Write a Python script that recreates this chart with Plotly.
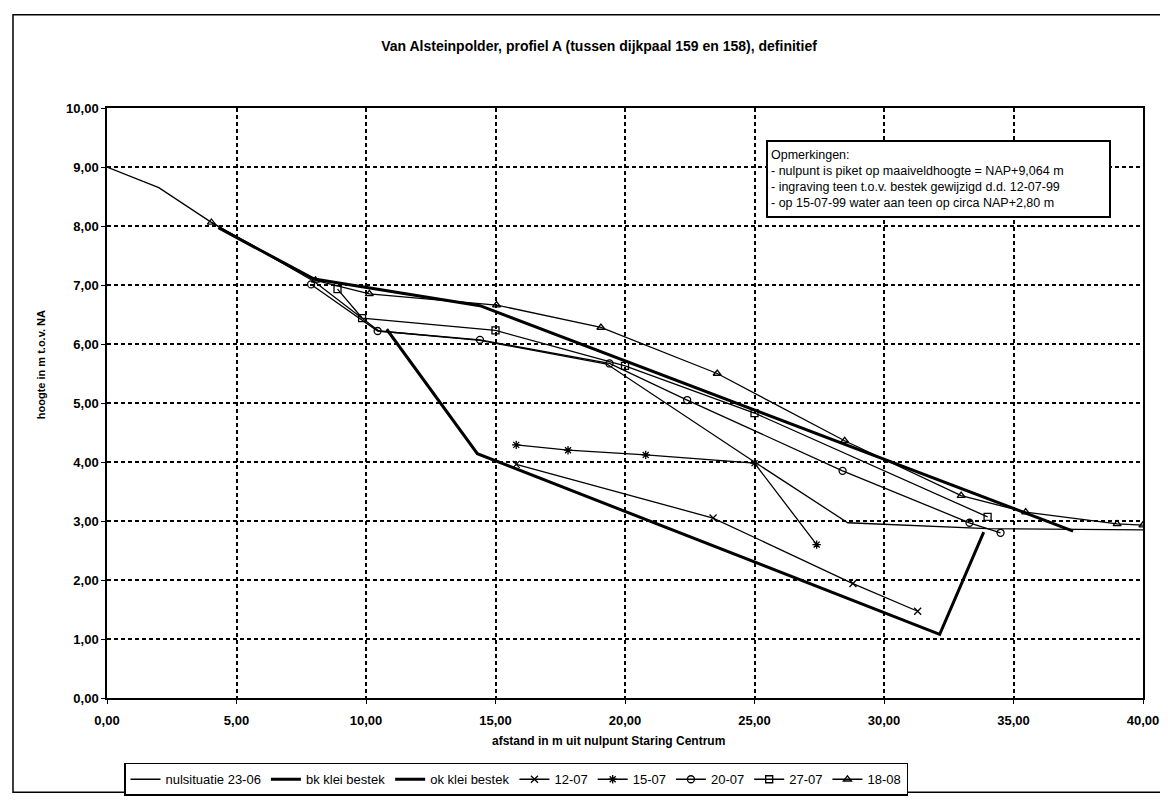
import plotly.graph_objects as go

# ---- data (afstand in m, hoogte in m) ----
nul_x = [0.0, 2.0, 4.0, 8.0, 9.9, 10.5, 14.4, 19.3, 25.0, 28.6, 34.0, 40.0]
nul_y = [9.00, 8.65, 8.07, 7.06, 6.42, 6.22, 6.06, 5.66, 4.00, 2.97, 2.87, 2.85]

bk_x = [4.3, 8.0, 14.4, 37.3]
bk_y = [7.97, 7.10, 6.65, 2.83]

ok_x = [10.8, 14.3, 32.15, 33.85]
ok_y = [6.25, 4.14, 1.08, 2.81]

m1207_x = [15.8, 23.4, 28.8, 31.3]
m1207_y = [3.96, 3.05, 1.94, 1.47]

m1507_x = [15.8, 17.8, 20.8, 25.0, 27.4]
m1507_y = [4.29, 4.20, 4.12, 3.98, 2.60]

m2007_x = [7.88, 10.45, 14.4, 19.4, 22.4, 28.4, 33.3, 34.5]
m2007_y = [7.01, 6.22, 6.07, 5.67, 5.05, 3.85, 2.97, 2.80]

m2707_x = [8.9, 9.85, 15.0, 20.0, 25.0, 34.0]
m2707_y = [6.93, 6.44, 6.23, 5.63, 4.83, 3.07]

m1808_x = [4.03, 8.05, 10.13, 15.04, 19.07, 23.56, 28.48, 32.98, 35.47, 39.0, 40.0]
m1808_y = [8.06, 7.08, 6.85, 6.66, 6.28, 5.50, 4.36, 3.43, 3.15, 2.95, 2.93]

x_tickvals = [0, 5, 10, 15, 20, 25, 30, 35, 40]
x_ticktext = ["0,00", "5,00", "10,00", "15,00", "20,00", "25,00", "30,00", "35,00", "40,00"]
y_tickvals = [0, 1, 2, 3, 4, 5, 6, 7, 8, 9, 10]
y_ticktext = ["0,00", "1,00", "2,00", "3,00", "4,00", "5,00", "6,00", "7,00", "8,00", "9,00", "10,00"]

title_text = "Van Alsteinpolder, profiel A (tussen dijkpaal 159 en 158), definitief"
x_title = "afstand in m uit nulpunt Staring Centrum"
y_title = "hoogte in m t.o.v. NA"
note_lines = [
    "Opmerkingen:",
    "- nulpunt is piket op maaiveldhoogte = NAP+9,064 m",
    "- ingraving teen t.o.v. bestek gewijzigd d.d. 12-07-99",
    "- op 15-07-99 water aan teen op circa NAP+2,80 m",
]

FONT = "Liberation Sans, Arial, sans-serif"
fig = go.Figure()

def add(name, xs, ys, width=1.3, symbol=None):
    mode = "lines+markers" if symbol else "lines"
    kw = dict(x=xs, y=ys, name=name, mode=mode,
              line=dict(color="black", width=width))
    if symbol:
        kw["marker"] = dict(symbol=symbol, size=7, color="black",
                            line=dict(color="black", width=1.3))
    fig.add_trace(go.Scatter(**kw))

add("nulsituatie 23-06", nul_x, nul_y, 1.3)
add("bk klei bestek", bk_x, bk_y, 3)
add("ok klei bestek", ok_x, ok_y, 3)
add("12-07", m1207_x, m1207_y, 1.3, "x-thin-open")
add("15-07", m1507_x, m1507_y, 1.3, "asterisk-open")
add("20-07", m2007_x, m2007_y, 1.3, "circle-open")
add("27-07", m2707_x, m2707_y, 1.3, "square-open")
add("18-08", m1808_x, m1808_y, 1.3, "triangle-up-open")

L, R, T, B = 99, 33, 100, 99
W, H = 1168, 800
pw, ph = W - L - R, H - T - B

def px(xp):
    return (xp - L) / pw

def py(yp):
    return (H - B - yp) / ph

fig.update_layout(
    width=W, height=H,
    margin=dict(l=L, r=R, t=T, b=B),
    paper_bgcolor="white", plot_bgcolor="white",
    font=dict(family=FONT, color="black", size=11),
    title=dict(text="<b>" + title_text + "</b>", x=591 / W, xref="container",
               y=1 - 38 / H, yref="container", xanchor="center", yanchor="middle",
               font=dict(size=14, family=FONT)),
    showlegend=True,
    legend=dict(orientation="h", x=px(116), y=py(767), xanchor="left", yanchor="top",
                bordercolor="black", borderwidth=1.5, bgcolor="white",
                font=dict(size=13, family=FONT), itemwidth=30, tracegroupgap=0),
    xaxis=dict(range=[0, 40], tickvals=x_tickvals, ticktext=x_ticktext,
               showgrid=True, gridcolor="black", griddash="4px,3px", gridwidth=1.5,
               showline=True, linecolor="black", linewidth=1.5, mirror=True,
               ticks="outside", ticklen=4, tickcolor="black", zeroline=False,
               ticklabelstandoff=6,
               tickfont=dict(size=13, family=FONT, weight="bold")),
    yaxis=dict(range=[0, 10], tickvals=y_tickvals, ticktext=y_ticktext,
               showgrid=True, gridcolor="black", griddash="4px,3px", gridwidth=1.5,
               showline=True, linecolor="black", linewidth=1.5, mirror=True,
               ticks="outside", ticklen=4, tickcolor="black", zeroline=False,
               tickfont=dict(size=13, family=FONT, weight="bold")),
)

# axis titles placed as annotations
fig.add_annotation(xref="paper", yref="paper", x=px(600), y=py(745),
                   xanchor="center", yanchor="middle", showarrow=False,
                   text="<b>" + x_title + "</b>", font=dict(size=12, family=FONT))
fig.add_annotation(xref="paper", yref="paper", x=px(33), y=py(362),
                   xanchor="center", yanchor="middle", showarrow=False, textangle=-90,
                   text="<b>" + y_title + "</b>", font=dict(size=11, family=FONT))

fig.add_annotation(
    xref="paper", yref="paper", x=px(758), y=py(133), xanchor="left", yanchor="top",
    text="<br>".join(note_lines), align="left", showarrow=False,
    font=dict(size=12.5, family=FONT), bgcolor="white", width=335, height=68,
    bordercolor="black", borderwidth=2, borderpad=3,
)

fig.add_shape(type="rect", xref="paper", yref="paper",
              x0=px(5), x1=px(1165), y0=py(797), y1=py(5),
              line=dict(color="black", width=1.5), layer="below")

fig.write_html("out.html")
